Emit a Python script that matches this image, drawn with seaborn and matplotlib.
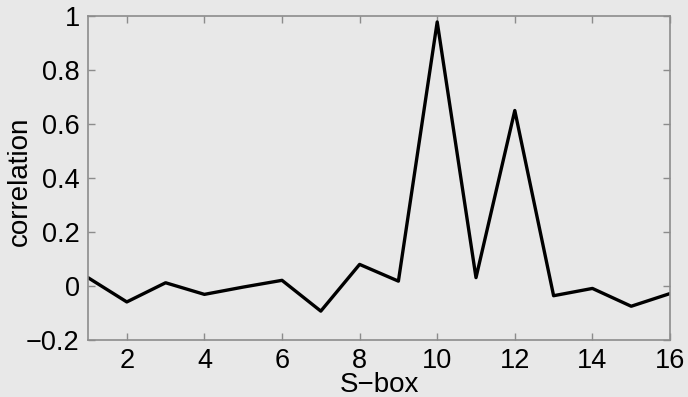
import matplotlib
matplotlib.use("Agg")
import matplotlib.pyplot as plt
import seaborn as sns
import pandas as pd

sbox = list(range(1, 17))
correlation = [0.031, -0.059, 0.012, -0.031, -0.004, 0.021, -0.093, 0.080,
               0.018, 0.978, 0.031, 0.650, -0.036, -0.009, -0.075, -0.028]
xticks = [2, 4, 6, 8, 10, 12, 14, 16]
yticks = [-0.2, 0, 0.2, 0.4, 0.6, 0.8, 1]
ytick_labels = ["\u22120.2", "0", "0.2", "0.4", "0.6", "0.8", "1"]

df = pd.DataFrame({"S-box": sbox, "correlation": correlation})

sns.set_theme(style="white")
plt.rcParams["font.family"] = ["Liberation Sans", "DejaVu Sans"]

bg = "#e8e8e8"
fig = plt.figure(figsize=(6.88, 3.97), dpi=100, facecolor=bg)
ax = fig.add_axes([88 / 688, 1 - 340 / 397, (670 - 88) / 688, (340 - 16) / 397])
ax.set_facecolor(bg)

sns.lineplot(data=df, x="S-box", y="correlation", ax=ax, color="black", linewidth=2.4)

ax.set_xlim(1, 16)
ax.set_ylim(-0.2, 1)
ax.set_xticks(xticks)
ax.set_xticklabels([str(t) for t in xticks])
ax.set_yticks(yticks)
ax.set_yticklabels(ytick_labels)

for s in ax.spines.values():
    s.set_color("#8c8c8c")
    s.set_linewidth(1.2)
ax.tick_params(direction="in", length=5, width=1, color="#8c8c8c",
               top=True, right=True, bottom=True, left=True,
               labelsize=19.5, labelcolor="black", pad=6)

ax.set_xlabel("S\u2212box", fontsize=20, color="black")
ax.set_ylabel("correlation", fontsize=20, color="black")
ax.xaxis.set_label_coords(0.5, -0.100)
ax.yaxis.set_label_coords(-0.094, 0.49)

fig.savefig("out.png", dpi=100, facecolor=bg)
